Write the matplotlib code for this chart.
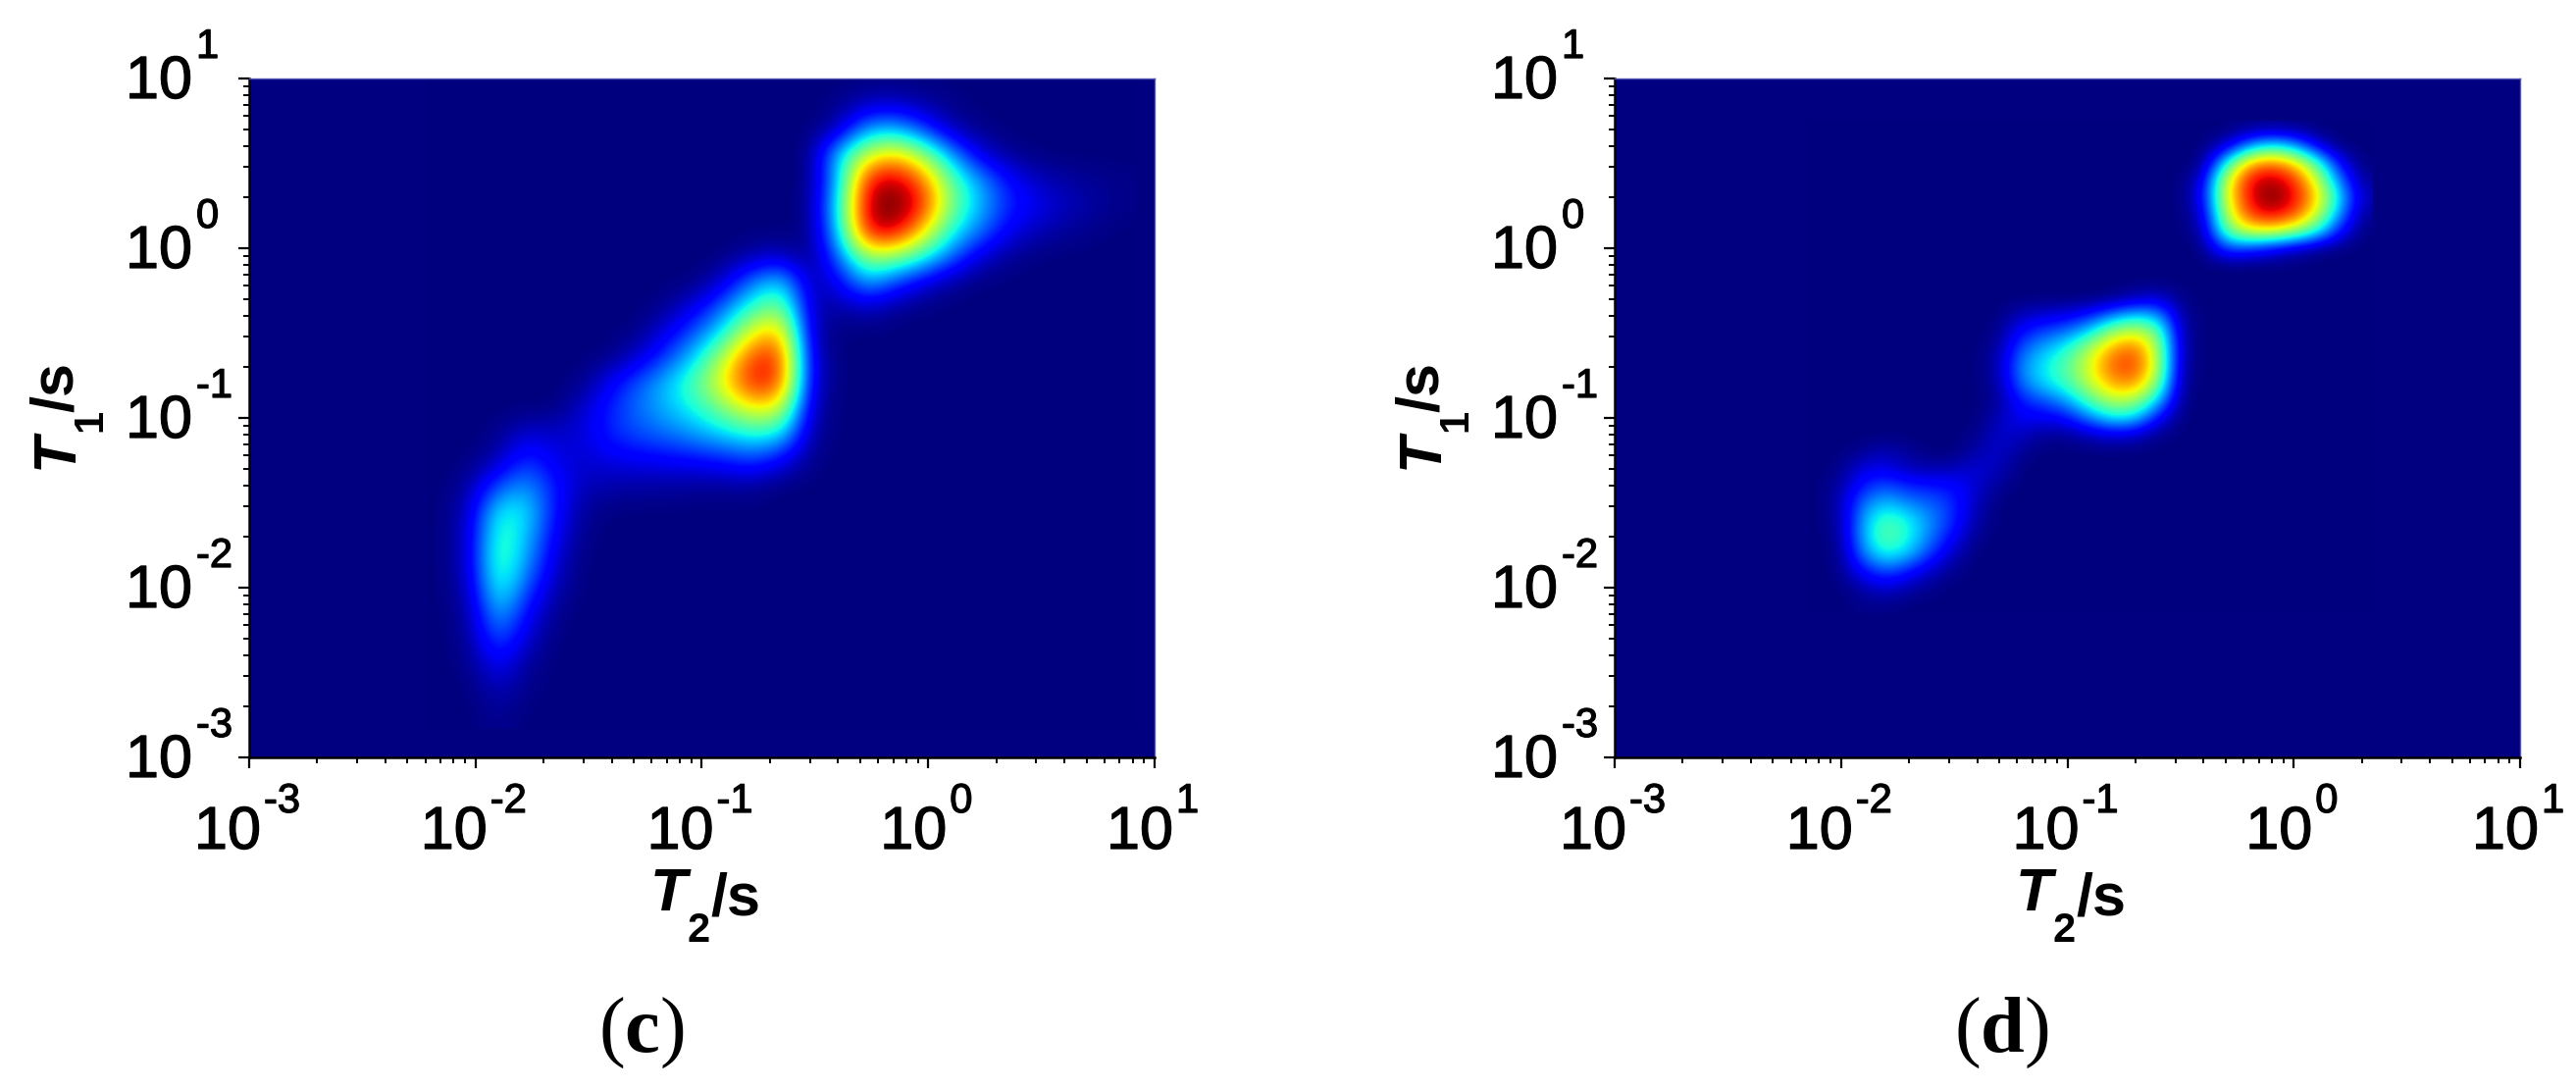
import numpy as np
import matplotlib
matplotlib.use("Agg")
import matplotlib.pyplot as plt
import matplotlib.patheffects as pe

# panel c, % of the colour range. columns log10(T2) = -2.15 .. 0.85, rows log10(T1) = 1.0 .. -2.75
t2_c = [-2.15 + 0.125 * i for i in range(25)]
t1_c = [1.0 - 0.15 * i for i in range(26)]
grid_c = [
    [0,0,0,0,0,0,0,0,0,0,0,0,0,0,0,0,0,0,0,0,0,0,0,0,0],
    [0,0,0,0,0,0,0,0,0,0,0,0,0,0,1,5,6,3,1,0,0,0,0,0,0],
    [0,0,0,0,0,0,0,0,0,0,0,0,0,0,4,28,31,18,4,1,0,0,0,0,0],
    [0,0,0,0,0,0,0,0,0,0,0,0,0,0,33,60,70,54,28,8,2,0,0,0,0],
    [0,0,0,0,0,0,0,0,0,0,0,0,0,0,30,90,97,80,46,28,13,6,3,2,1],
    [0,0,0,0,0,0,0,0,0,0,0,0,0,1,35,96,104,88,50,31,16,10,6,3,1],
    [0,0,0,0,0,0,0,0,0,0,0,0,0,0,32,92,95,68,38,24,10,5,2,1,0],
    [0,0,0,0,0,0,0,0,0,0,0,4,6,0,22,54,52,39,22,7,2,0,0,0,0],
    [0,0,0,0,0,0,0,0,0,0,8,25,35,3,10,30,18,8,2,0,0,0,0,0,0],
    [0,0,0,0,0,0,0,0,2,10,24,42,52,5,3,5,2,0,0,0,0,0,0,0,0],
    [0,0,0,0,0,0,0,1,10,22,38,66,74,5,0,0,0,0,0,0,0,0,0,0,0],
    [0,0,0,0,0,0,1,8,20,35,60,87,87,8,0,0,0,0,0,0,0,0,0,0,0],
    [0,0,0,0,0,1,12,22,33,46,67,90,84,8,0,0,0,0,0,0,0,0,0,0,0],
    [0,0,0,0,0,7,16,24,31,38,50,64,60,5,0,0,0,0,0,0,0,0,0,0,0],
    [0,0,1,8,7,8,16,20,23,28,33,38,35,3,0,0,0,0,0,0,0,0,0,0,0],
    [0,0,5,18,9,7,9,10,11,12,14,18,10,1,0,0,0,0,0,0,0,0,0,0,0],
    [0,3,20,28,14,5,4,3,3,2,2,2,0,0,0,0,0,0,0,0,0,0,0,0,0],
    [0,6,38,36,13,2,0,0,0,0,0,0,0,0,0,0,0,0,0,0,0,0,0,0,0],
    [0,7,44,32,10,1,0,0,0,0,0,0,0,0,0,0,0,0,0,0,0,0,0,0,0],
    [0,7,46,28,7,0,0,0,0,0,0,0,0,0,0,0,0,0,0,0,0,0,0,0,0],
    [0,5,42,20,4,0,0,0,0,0,0,0,0,0,0,0,0,0,0,0,0,0,0,0,0],
    [0,3,32,12,1,0,0,0,0,0,0,0,0,0,0,0,0,0,0,0,0,0,0,0,0],
    [0,2,22,7,0,0,0,0,0,0,0,0,0,0,0,0,0,0,0,0,0,0,0,0,0],
    [0,1,12,2,0,0,0,0,0,0,0,0,0,0,0,0,0,0,0,0,0,0,0,0,0],
    [0,0,5,1,0,0,0,0,0,0,0,0,0,0,0,0,0,0,0,0,0,0,0,0,0],
    [0,0,2,0,0,0,0,0,0,0,0,0,0,0,0,0,0,0,0,0,0,0,0,0,0],
]

# panel d. columns log10(T2) = -2.1 .. 0.3, rows log10(T1) = 0.7 .. -2.1
t2_d = [-2.1 + 0.1 * i for i in range(25)]
t1_d = [0.7 - 0.1 * i for i in range(29)]
grid_d = [
    [0,0,0,0,0,0,0,0,0,0,0,0,0,0,0,0,0,0,0,1,2,1,0,0,0],
    [0,0,0,0,0,0,0,0,0,0,0,0,0,0,0,0,0,0,6,26,38,30,10,0,0],
    [0,0,0,0,0,0,0,0,0,0,0,0,0,0,0,0,0,0,36,72,80,70,45,12,0],
    [0,0,0,0,0,0,0,0,0,0,0,0,0,0,0,0,0,7,58,90,97,88,62,25,2],
    [0,0,0,0,0,0,0,0,0,0,0,0,0,0,0,0,0,10,60,90,102,92,70,35,5],
    [0,0,0,0,0,0,0,0,0,0,0,0,0,0,0,0,0,6,55,85,93,85,62,28,2],
    [0,0,0,0,0,0,0,0,0,0,0,0,0,0,0,0,0,3,45,62,64,55,40,14,0],
    [0,0,0,0,0,0,0,0,0,0,0,0,0,0,0,0,0,0,20,18,12,6,2,0,0],
    [0,0,0,0,0,0,0,0,0,0,0,0,0,0,0,0,0,0,0,0,0,0,0,0,0],
    [0,0,0,0,0,0,0,0,0,0,0,0,0,0,0,0,0,0,0,0,0,0,0,0,0],
    [0,0,0,0,0,0,0,0,0,0,0,0,0,1,5,8,1,0,0,0,0,0,0,0,0],
    [0,0,0,0,0,0,0,0,0,6,8,10,15,26,34,30,3,0,0,0,0,0,0,0,0],
    [0,0,0,0,0,0,0,0,1,14,20,25,36,56,63,50,4,0,0,0,0,0,0,0,0],
    [0,0,0,0,0,0,0,0,3,22,31,40,57,76,82,57,4,0,0,0,0,0,0,0,0],
    [0,0,0,0,0,0,0,0,4,27,36,46,62,82,85,59,3,0,0,0,0,0,0,0,0],
    [0,0,0,0,0,0,0,0,3,24,34,42,58,74,76,51,2,0,0,0,0,0,0,0,0],
    [0,0,0,0,0,0,0,0,2,15,20,28,44,57,55,33,1,0,0,0,0,0,0,0,0],
    [0,0,0,0,0,0,0,0,5,11,10,13,25,36,34,12,0,0,0,0,0,0,0,0,0],
    [0,0,0,0,0,0,0,1,7,6,2,2,5,8,6,1,0,0,0,0,0,0,0,0,0],
    [0,0,2,5,2,0,0,4,7,2,0,0,0,0,0,0,0,0,0,0,0,0,0,0,0],
    [0,1,9,10,5,4,5,8,5,0,0,0,0,0,0,0,0,0,0,0,0,0,0,0,0],
    [0,3,15,20,15,14,13,7,2,0,0,0,0,0,0,0,0,0,0,0,0,0,0,0,0],
    [0,4,24,32,25,22,16,5,0,0,0,0,0,0,0,0,0,0,0,0,0,0,0,0,0],
    [0,3,29,44,37,26,16,3,0,0,0,0,0,0,0,0,0,0,0,0,0,0,0,0,0],
    [0,2,30,48,38,24,11,1,0,0,0,0,0,0,0,0,0,0,0,0,0,0,0,0,0],
    [0,1,25,39,32,17,5,0,0,0,0,0,0,0,0,0,0,0,0,0,0,0,0,0,0],
    [0,1,13,21,14,6,1,0,0,0,0,0,0,0,0,0,0,0,0,0,0,0,0,0,0],
    [0,0,4,8,4,1,0,0,0,0,0,0,0,0,0,0,0,0,0,0,0,0,0,0,0],
    [0,0,1,1,0,0,0,0,0,0,0,0,0,0,0,0,0,0,0,0,0,0,0,0,0],
]

decades = [-3, -2, -1, 0, 1]
sup_labels = ['-3', '-2', '-1', '0', '1']
minor = [d + np.log10(m) for d in decades[:-1] for m in range(2, 10)]

W, H = 2626, 1110
plt.rcParams['font.family'] = 'Liberation Sans'
plt.rcParams['mathtext.fontset'] = 'custom'
plt.rcParams['mathtext.bf'] = 'Liberation Serif:bold'
fig = plt.figure(figsize=(W / 100, H / 100), dpi=100)
heavy = [pe.withStroke(linewidth=0.9, foreground='black')]


def px_text(x, y, s, **kw):
    fig.text(x / W, 1 - y / H, s, va='baseline', **kw)


def panel(left, t2, t1, grid, letter):
    ax = fig.add_axes([left / W, 1 - 772 / H, 923 / W, 692 / H])
    cm = plt.get_cmap('jet')
    ax.set_facecolor(cm(0))
    dx = t2[1] - t2[0]
    dy = t1[0] - t1[1]
    ext = [t2[0] - dx / 2, t2[-1] + dx / 2, t1[-1] - dy / 2, t1[0] + dy / 2]
    ax.imshow(np.array(grid), cmap=cm, vmin=0, vmax=100, extent=ext, origin='upper',
              aspect='auto', interpolation='bicubic')
    ax.set_xlim(-3, 1)
    ax.set_ylim(-3, 1)
    for s in ['left', 'bottom']:
        ax.spines[s].set_linewidth(1.8)
    for s in ['top', 'right']:
        ax.spines[s].set_color('#5555b5')
        ax.spines[s].set_linewidth(1)
    ax.set_xticks(decades)
    ax.set_yticks(decades)
    ax.set_xticks(minor, minor=True)
    ax.set_yticks(minor, minor=True)
    ax.tick_params(which='major', length=8, width=1.6, labelbottom=False, labelleft=False)
    ax.tick_params(which='minor', length=4, width=1.4)

    for d, sup in zip(decades, sup_labels):
        # x tick labels, the two without a minus sit further right
        shift = 0 if '-' in sup else 7
        ax.annotate('10', xy=(d, 0), xycoords=('data', 'axes fraction'), xytext=(12 + shift, -93),
                    textcoords='offset pixels', ha='right', va='baseline', fontsize=44,
                    annotation_clip=False, path_effects=heavy)
        ax.annotate(sup, xy=(d, 0), xycoords=('data', 'axes fraction'), xytext=(15 + shift, -56),
                    textcoords='offset pixels', ha='left', va='baseline', fontsize=30,
                    annotation_clip=False, path_effects=heavy)
        # y tick labels
        ax.annotate('10', xy=(0, d), xycoords=('axes fraction', 'data'), xytext=(-58, -20),
                    textcoords='offset pixels', ha='right', va='baseline', fontsize=44,
                    annotation_clip=False, path_effects=heavy)
        ax.annotate(sup, xy=(0, d), xycoords=('axes fraction', 'data'), xytext=(-54, 21),
                    textcoords='offset pixels', ha='left', va='baseline', fontsize=30,
                    annotation_clip=False, path_effects=heavy)

    off = left - 254
    # T2/s under the x axis
    px_text(off + 663, 928, 'T', fontsize=44, fontweight='bold', fontstyle='italic')
    px_text(off + 700, 960, '2', fontsize=30, fontweight='bold')
    px_text(off + 724, 932, '/s', fontsize=44, fontweight='bold')
    # T1/s left of the y axis
    rot = dict(rotation=90, rotation_mode='anchor', ha='left')
    px_text(off + 74, 478, 'T', fontsize=44, fontweight='bold', fontstyle='italic', **rot)
    px_text(off + 103, 440, '1', fontsize=30, fontweight='bold', **rot)
    px_text(off + 74, 420, '/s', fontsize=44, fontweight='bold', **rot)
    # panel letter
    cx = 654 if letter == 'c' else 2040
    fig.text(cx / W, 1 - 1072 / H, '($\\mathbf{' + letter + '}$)', ha='center', va='baseline',
             fontsize=58, family='Liberation Serif')


panel(254, t2_c, t1_c, grid_c, 'c')
panel(1646, t2_d, t1_d, grid_d, 'd')
fig.savefig('out.png', dpi=100)
